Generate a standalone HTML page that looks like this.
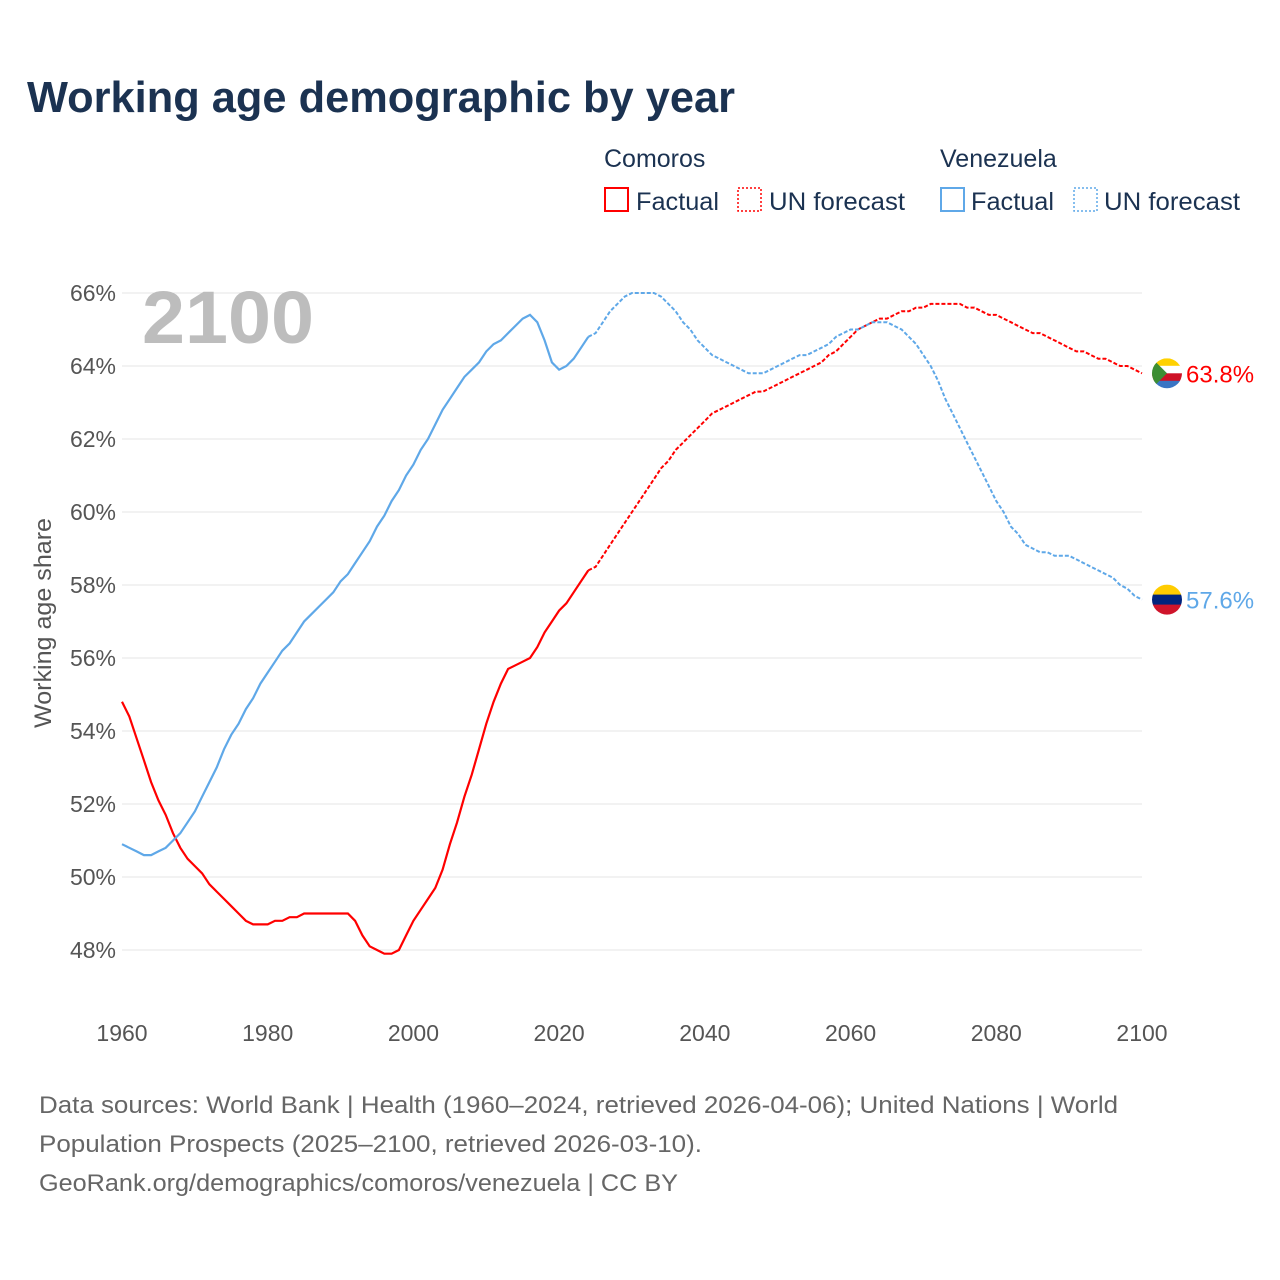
<!DOCTYPE html>
<html><head><meta charset="utf-8">
<style>
body{margin:0;background:#fff;font-family:"Liberation Sans",sans-serif;}
#wrap{position:relative;width:1280px;height:1280px;overflow:hidden;}
</style></head>
<body>
<div id="wrap">
<svg id="chart" width="1280" height="1280" font-family="Liberation Sans, sans-serif">
<text x="27" y="112" font-size="44" font-weight="bold" fill="#1b3251" textLength="708" lengthAdjust="spacingAndGlyphs">Working age demographic by year</text>
<g font-size="25" fill="#1b3251">
<text x="604" y="167">Comoros</text>
<text x="940" y="167">Venezuela</text>
<rect x="605" y="188" width="23" height="23" fill="none" stroke="#f00" stroke-width="2"/>
<text x="636" y="210" textLength="83" lengthAdjust="spacingAndGlyphs">Factual</text>
<rect x="738" y="188" width="23" height="23" fill="none" stroke="#f00" stroke-width="1.5" stroke-dasharray="2,2"/>
<text x="769" y="210" textLength="136" lengthAdjust="spacingAndGlyphs">UN forecast</text>
<rect x="941" y="188" width="23" height="23" fill="none" stroke="#5fa8e8" stroke-width="2"/>
<text x="971" y="210" textLength="83" lengthAdjust="spacingAndGlyphs">Factual</text>
<rect x="1074" y="188" width="23" height="23" fill="none" stroke="#5fa8e8" stroke-width="1.5" stroke-dasharray="2,2"/>
<text x="1104" y="210" textLength="136" lengthAdjust="spacingAndGlyphs">UN forecast</text>
</g>
<g id="grid"></g>
<text x="142" y="343" font-size="74" font-weight="bold" fill="#bdbdbd" textLength="172" lengthAdjust="spacingAndGlyphs">2100</text>
<text transform="translate(51,623) rotate(-90)" text-anchor="middle" font-size="24" fill="#555" textLength="210" lengthAdjust="spacingAndGlyphs">Working age share</text>
<g id="series"></g>
<g font-size="24" fill="#666">
<text x="39" y="1113" textLength="1079" lengthAdjust="spacingAndGlyphs">Data sources: World Bank | Health (1960–2024, retrieved 2026-04-06); United Nations | World</text>
<text x="39" y="1152" textLength="663" lengthAdjust="spacingAndGlyphs">Population Prospects (2025–2100, retrieved 2026-03-10).</text>
<text x="39" y="1191" textLength="639" lengthAdjust="spacingAndGlyphs">GeoRank.org/demographics/comoros/venezuela | CC BY</text>
</g>
</svg>
</div>
<script>
const yTicks=[48,50,52,54,56,58,60,62,64,66];
const xTicks=[1960,1980,2000,2020,2040,2060,2080,2100];
const startYear=1960;
const lastFactualYear=2024;
const comoros=[54.8,54.4,53.8,53.2,52.6,52.1,51.7,51.2,50.8,50.5,50.3,50.1,49.8,49.6,49.4,49.2,49.0,48.8,48.7,48.7,48.7,48.8,48.8,48.9,48.9,49.0,49.0,49.0,49.0,49.0,49.0,49.0,48.8,48.4,48.1,48.0,47.9,47.9,48.0,48.4,48.8,49.1,49.4,49.7,50.2,50.9,51.5,52.2,52.8,53.5,54.2,54.8,55.3,55.7,55.8,55.9,56.0,56.3,56.7,57.0,57.3,57.5,57.8,58.1,58.4,
58.5,58.8,59.1,59.4,59.7,60.0,60.3,60.6,60.9,61.2,61.4,61.7,61.9,62.1,62.3,62.5,62.7,62.8,62.9,63.0,63.1,63.2,63.3,63.3,63.4,63.5,63.6,63.7,63.8,63.9,64.0,64.1,64.3,64.4,64.6,64.8,65.0,65.1,65.2,65.3,65.3,65.4,65.5,65.5,65.6,65.6,65.7,65.7,65.7,65.7,65.7,65.6,65.6,65.5,65.4,65.4,65.3,65.2,65.1,65.0,64.9,64.9,64.8,64.7,64.6,64.5,64.4,64.4,64.3,64.2,64.2,64.1,64.0,64.0,63.9,63.8];
const venezuela=[50.9,50.8,50.7,50.6,50.6,50.7,50.8,51.0,51.2,51.5,51.8,52.2,52.6,53.0,53.5,53.9,54.2,54.6,54.9,55.3,55.6,55.9,56.2,56.4,56.7,57.0,57.2,57.4,57.6,57.8,58.1,58.3,58.6,58.9,59.2,59.6,59.9,60.3,60.6,61.0,61.3,61.7,62.0,62.4,62.8,63.1,63.4,63.7,63.9,64.1,64.4,64.6,64.7,64.9,65.1,65.3,65.4,65.2,64.7,64.1,63.9,64.0,64.2,64.5,64.8,
64.9,65.2,65.5,65.7,65.9,66.0,66.0,66.0,66.0,65.9,65.7,65.5,65.2,65.0,64.7,64.5,64.3,64.2,64.1,64.0,63.9,63.8,63.8,63.8,63.9,64.0,64.1,64.2,64.3,64.3,64.4,64.5,64.6,64.8,64.9,65.0,65.0,65.1,65.2,65.2,65.2,65.1,65.0,64.8,64.6,64.3,64.0,63.6,63.1,62.7,62.3,61.9,61.5,61.1,60.7,60.3,60.0,59.6,59.4,59.1,59.0,58.9,58.9,58.8,58.8,58.8,58.7,58.6,58.5,58.4,58.3,58.2,58.0,57.9,57.7,57.6];

const NS='http://www.w3.org/2000/svg';
const X0=122,X1=1142,Y0=950,Y1=293;
const xs=y=>X0+(y-1960)*(X1-X0)/140;
const ys=v=>Y0-(v-48)*(Y0-Y1)/18;
function mk(tag,attrs,parent){const e=document.createElementNS(NS,tag);for(const k in attrs)e.setAttribute(k,attrs[k]);parent.appendChild(e);return e;}
const grid=document.getElementById('grid');
yTicks.forEach(t=>{
 const l=mk('line',{x1:X0,x2:X1,y1:ys(t),y2:ys(t),stroke:'#e6e6e6','stroke-width':1},grid);
 
 
 const tx=mk('text',{x:116,y:ys(t)+8,'text-anchor':'end','font-size':23,fill:'#555'},grid);
 tx.textContent=t+'%';
 
 
});
xTicks.forEach(t=>{
 const tx=mk('text',{x:xs(t),y:1041,'text-anchor':'middle','font-size':23,fill:'#555'},grid);
 tx.textContent=t;
 
 
});
const ser=document.getElementById('series');
function draw(vals,color,name){
 const split=lastFactualYear-startYear;
 const pts=vals.map((v,i)=>xs(startYear+i).toFixed(1)+','+ys(v).toFixed(1));
 const f=mk('polyline',{points:pts.slice(0,split+1).join(' '),fill:'none',stroke:color,'stroke-width':2.2},ser);
 
 
 const p=mk('polyline',{points:pts.slice(split).join(' '),fill:'none',stroke:color,'stroke-width':2,'stroke-dasharray':'4,2'},ser);
 
 
 const last=vals[vals.length-1];
 const lbl=mk('text',{x:1186,y:ys(last)+9,'font-size':24,fill:color},ser);
 lbl.textContent=last.toFixed(1)+'%';
 
 
 return ys(last);
}
const yc=draw(comoros,'#ff0000','comoros');
const yv=draw(venezuela,'#5fa8e8','venezuela');
function flag(cy,name,bands){
 const g=mk('g',{},ser);
 
 
 const cp=mk('clipPath',{id:'c'+name},g);
 mk('circle',{cx:1167,cy:cy,r:15},cp);
 const gg=mk('g',{'clip-path':'url(#c'+name+')'},g);
 bands.forEach((c,i)=>mk('rect',{x:1152,y:cy-15+i*30/bands.length,width:30,height:30/bands.length+0.5,fill:c},gg));
 return gg;
}
const fc=flag(yc,'comoros',['#ffd100','#ffffff','#ce1126','#3a75c4']);
mk('polygon',{points:`1152,${yc-15} 1167,${yc} 1152,${yc+15}`,fill:'#3d8e33'},fc);
flag(yv,'venezuela',['#ffcc00','#ffcc00','#00247d','#00247d','#cf142b','#cf142b']);
</script>
</body></html>
